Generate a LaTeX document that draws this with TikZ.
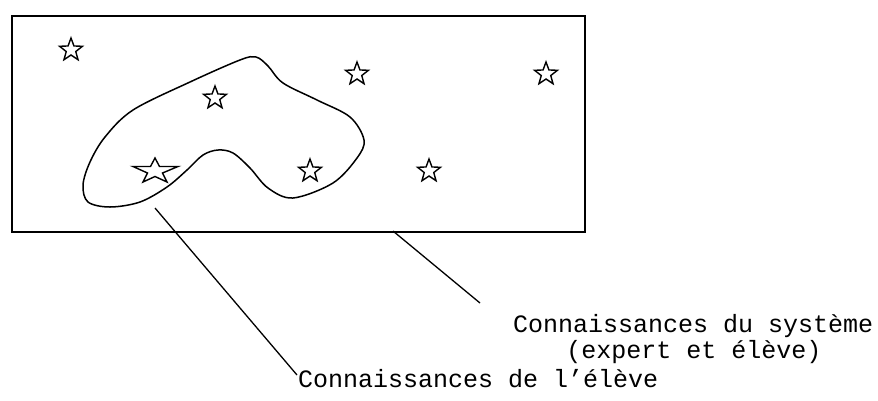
\documentclass[tikz,border=0pt]{standalone}
\usepackage{fontspec}
\setmonofont{Liberation Mono}
\usetikzlibrary{shapes.geometric}
\tikzset{
  stroke/.style={line width=1.5pt, black},
  smallstar/.style={star, star points=5, star point ratio=2.4, draw, line width=1.4pt, minimum size=24pt, inner sep=0pt},
  lbl/.style={font=\ttfamily\fontsize{25pt}{26pt}\selectfont, inner sep=0pt},
  leader/.style={line width=1.3pt}
}
\begin{document}
\begin{tikzpicture}[x=1pt,y=-1pt]
\useasboundingbox (0,0) rectangle (878,400);
% outer frame
\node[draw, stroke, minimum width=573pt, minimum height=216pt, inner sep=0pt, anchor=north west] (frame) at (11,15) {};
% blob: learner knowledge
\draw[stroke] plot[smooth cycle, tension=0.55] coordinates {
 (133,110) (190,82) (240,60) (256,57) (268,66) (283,83) (317,100) (350,117) (364,140)
 (357,158) (333,183) (293,198) (268,188) (250,168) (233,153) (218,150)
 (203,155) (187,170) (167,187) (140,202) (110,207) (88,202) (83,185) (90,162) (105,137)};
% stars
\node[smallstar] (s1) at (71,50) {};
\node[smallstar] (s2) at (215,98) {};
\node[smallstar] (s3) at (357,74) {};
\node[smallstar] (s4) at (546,74) {};
\node[smallstar] (s5) at (310,171) {};
\node[smallstar] (s6) at (429,171) {};
\draw[line width=1.4pt, shift={(155,170)}] (0,-12) -- (4.5,-3.5) -- (23,-3.5) -- (7.5,3) -- (12,12) -- (0,6.5)
  -- (-12,12) -- (-7.5,3) -- (-22,-3.5) -- (-4.5,-3.5) -- cycle;
% labels
\node[lbl, anchor=base west] (sys) at (513,332) {Connaissances du système};
\node[lbl, anchor=base] (sys2) at (694,358) {(expert et élève)};
\node[lbl, anchor=base west] (elv) at (298,387) {Connaissances de l’élève};
% leader lines
\coordinate (a1) at (155,208);
\coordinate (a2) at (297,375);
\coordinate (b1) at (393,231);
\coordinate (b2) at (480,303);
\draw[leader] (a1) -- (a2);
\draw[leader] (b1) -- (b2);
\end{tikzpicture}
\end{document}
